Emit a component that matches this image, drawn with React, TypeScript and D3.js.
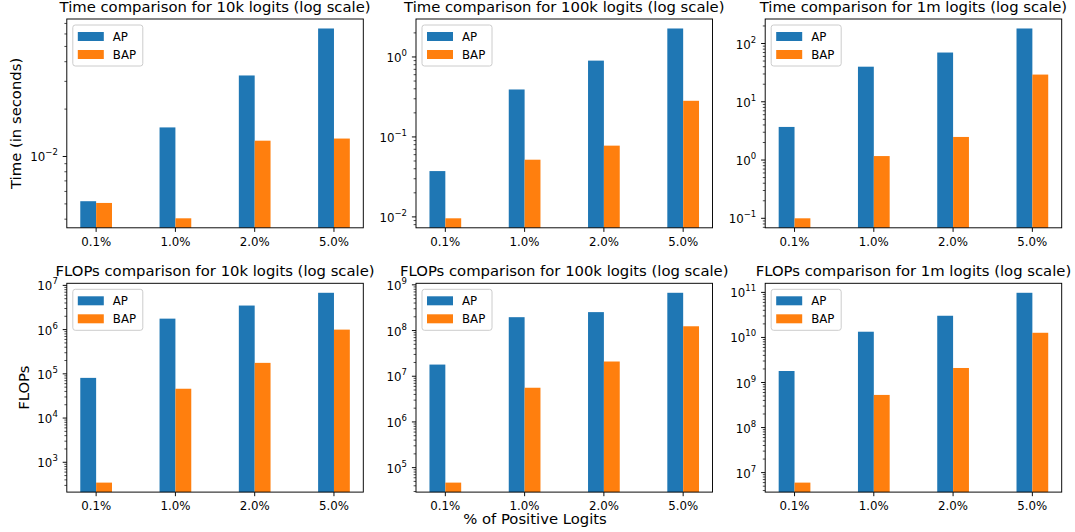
import React from "react";
import * as d3 from "d3";

const categories = ["0.1%", "1.0%", "2.0%", "5.0%"];
const seriesNames = ["AP", "BAP"];
const seriesColors = ["#1f77b4", "#ff7f0e"];

const time10kAP = [0.0052, 0.0153, 0.0327, 0.065];
const time10kBAP = [0.00507, 0.00405, 0.0126, 0.013];
const time100kAP = [0.0374, 0.392, 0.9, 2.27];
const time100kBAP = [0.0096, 0.0519, 0.0778, 0.283];
const time1mAP = [3.7, 40, 70, 181];
const time1mBAP = [0.1, 1.17, 2.49, 29.3];
const flops10kAP = [8.1e4, 1.77e6, 3.5e6, 6.8e6];
const flops10kBAP = [347, 4.6e4, 1.77e5, 1.0e6];
const flops100kAP = [1.8e7, 1.96e8, 2.53e8, 6.7e8];
const flops100kBAP = [4.7e4, 5.6e6, 2.1e7, 1.24e8];
const flops1mAP = [1.8e9, 1.34e10, 3.03e10, 9.8e10];
const flops1mBAP = [6e6, 5.3e8, 2.1e9, 1.27e10];

const titles = [
  "Time comparison for 10k logits (log scale)",
  "Time comparison for 100k logits (log scale)",
  "Time comparison for 1m logits (log scale)",
  "FLOPs comparison for 10k logits (log scale)",
  "FLOPs comparison for 100k logits (log scale)",
  "FLOPs comparison for 1m logits (log scale)",
];
const rowLabels = ["Time (in seconds)", "FLOPs"];
const xAxisLabel = "% of Positive Logits";

const panelData = [
  [time10kAP, time10kBAP],
  [time100kAP, time100kBAP],
  [time1mAP, time1mBAP],
  [flops10kAP, flops10kBAP],
  [flops100kAP, flops100kBAP],
  [flops1mAP, flops1mBAP],
];

const W = 1075;
const H = 532;
const lefts = [66.8, 416, 765.2];
const tops = [19, 283.3];
const PW = 296.5;
const PH = 208.8;
const FONT = "DejaVu Sans, sans-serif";
const TICK = 11.8;
const TITLE = 14.8;

function fmtExp(e: number) {
  return e < 0 ? "\u2212" + Math.abs(e) : String(e);
}

function Panel({ idx }: { idx: number }) {
  const col = idx % 3;
  const row = Math.floor(idx / 3);
  const x0 = lefts[col];
  const y0 = tops[row];
  const [ap, bap] = panelData[idx];
  const all = ap.concat(bap);
  const lmin = Math.log10(d3.min(all)!);
  const lmax = Math.log10(d3.max(all)!);
  const m = (lmax - lmin) * 0.05;
  const lo = lmin - m;
  const hi = lmax + m;
  const y = d3.scaleLog().domain([10 ** lo, 10 ** hi]).range([y0 + PH, y0]);
  const barW = 0.2;
  const x = d3.scaleLinear().domain([-0.37, 3.37]).range([x0, x0 + PW]);
  const unit = x(1) - x(0);

  const majors: number[] = [];
  const minors: number[] = [];
  for (let d = Math.floor(lo); d <= Math.ceil(hi); d++) {
    if (d >= lo - 1e-9 && d <= hi + 1e-9) majors.push(d);
    for (let k = 2; k <= 9; k++) {
      const v = d + Math.log10(k);
      if (v >= lo && v <= hi) minors.push(10 ** v);
    }
  }

  const bottom = y0 + PH;
  const series = [ap, bap];
  const lx = x0 + 6;
  const ly = y0 + 6;
  const lw = 70;

  return (
    <g>
      <rect x={x0} y={y0} width={PW} height={PH} fill="#fff" />
      {series.map((vals, s) =>
        vals.map((v, i) => {
          const cx = x(i) + (s === 0 ? -barW / 2 : barW / 2) * unit;
          const top = y(v);
          return (
            <rect
              key={`${s}-${i}`}
              x={cx - (barW / 2) * unit}
              y={top}
              width={barW * unit}
              height={bottom - top}
              fill={seriesColors[s]}
            />
          );
        })
      )}
      {/* minor ticks */}
      {minors.map((v, i) => (
        <line key={"mn" + i} x1={x0} x2={x0 - 2.4} y1={y(v)} y2={y(v)} stroke="#000" strokeWidth={0.7} />
      ))}
      {majors.map((d) => (
        <g key={"mj" + d}>
          <line x1={x0} x2={x0 - 4.1} y1={y(10 ** d)} y2={y(10 ** d)} stroke="#000" strokeWidth={0.95} />
          <text x={x0 - 9} y={y(10 ** d) + 5} textAnchor="end" fontFamily={FONT} fontSize={TICK} fill="#000">
            10
            <tspan dy={-6} fontSize={8.5}>{fmtExp(d)}</tspan>
          </text>
        </g>
      ))}
      {categories.map((c, i) => (
        <g key={c}>
          <line x1={x(i)} x2={x(i)} y1={bottom} y2={bottom + 4.1} stroke="#000" strokeWidth={0.95} />
          <text x={x(i)} y={bottom + 18} textAnchor="middle" fontFamily={FONT} fontSize={TICK} fill="#000">
            {c}
          </text>
        </g>
      ))}
      <rect x={x0} y={y0} width={PW} height={PH} fill="none" stroke="#000" strokeWidth={0.95} />
      <text x={x0 + PW / 2} y={y0 - 7.3} textAnchor="middle" fontFamily={FONT} fontSize={TITLE} fill="#000">
        {titles[idx]}
      </text>
      {/* legend */}
      <rect x={lx} y={ly} width={lw} height={41} rx={2.5} ry={2.5} fill="#fff" fillOpacity={0.8} stroke="#cccccc" strokeWidth={1} />
      {seriesNames.map((n, s) => (
        <g key={n}>
          <rect x={lx + 5} y={ly + 7 + s * 18} width={26} height={9} fill={seriesColors[s]} />
          <text x={lx + 40} y={ly + 15.7 + s * 18} fontFamily={FONT} fontSize={TICK} fill="#000">
            {n}
          </text>
        </g>
      ))}
    </g>
  );
}

export default function App() {
  return (
    <svg
      width={W}
      height={H}
      viewBox={`0 0 ${W} ${H}`}
      style={{ position: "absolute", left: 0, top: 0, background: "#fff" }}
    >
      <rect x={0} y={0} width={W} height={H} fill="#fff" />
      {panelData.map((_, i) => (
        <Panel key={i} idx={i} />
      ))}
      <text
        transform={`translate(21,${tops[0] + PH / 2}) rotate(-90)`}
        textAnchor="middle"
        fontFamily={FONT}
        fontSize={TITLE}
        fill="#000"
      >
        {rowLabels[0]}
      </text>
      <text
        transform={`translate(29,${tops[1] + PH / 2}) rotate(-90)`}
        textAnchor="middle"
        fontFamily={FONT}
        fontSize={TITLE}
        fill="#000"
      >
        {rowLabels[1]}
      </text>
      <text x={535} y={524} textAnchor="middle" fontFamily={FONT} fontSize={TITLE} fill="#000">
        {xAxisLabel}
      </text>
    </svg>
  );
}
